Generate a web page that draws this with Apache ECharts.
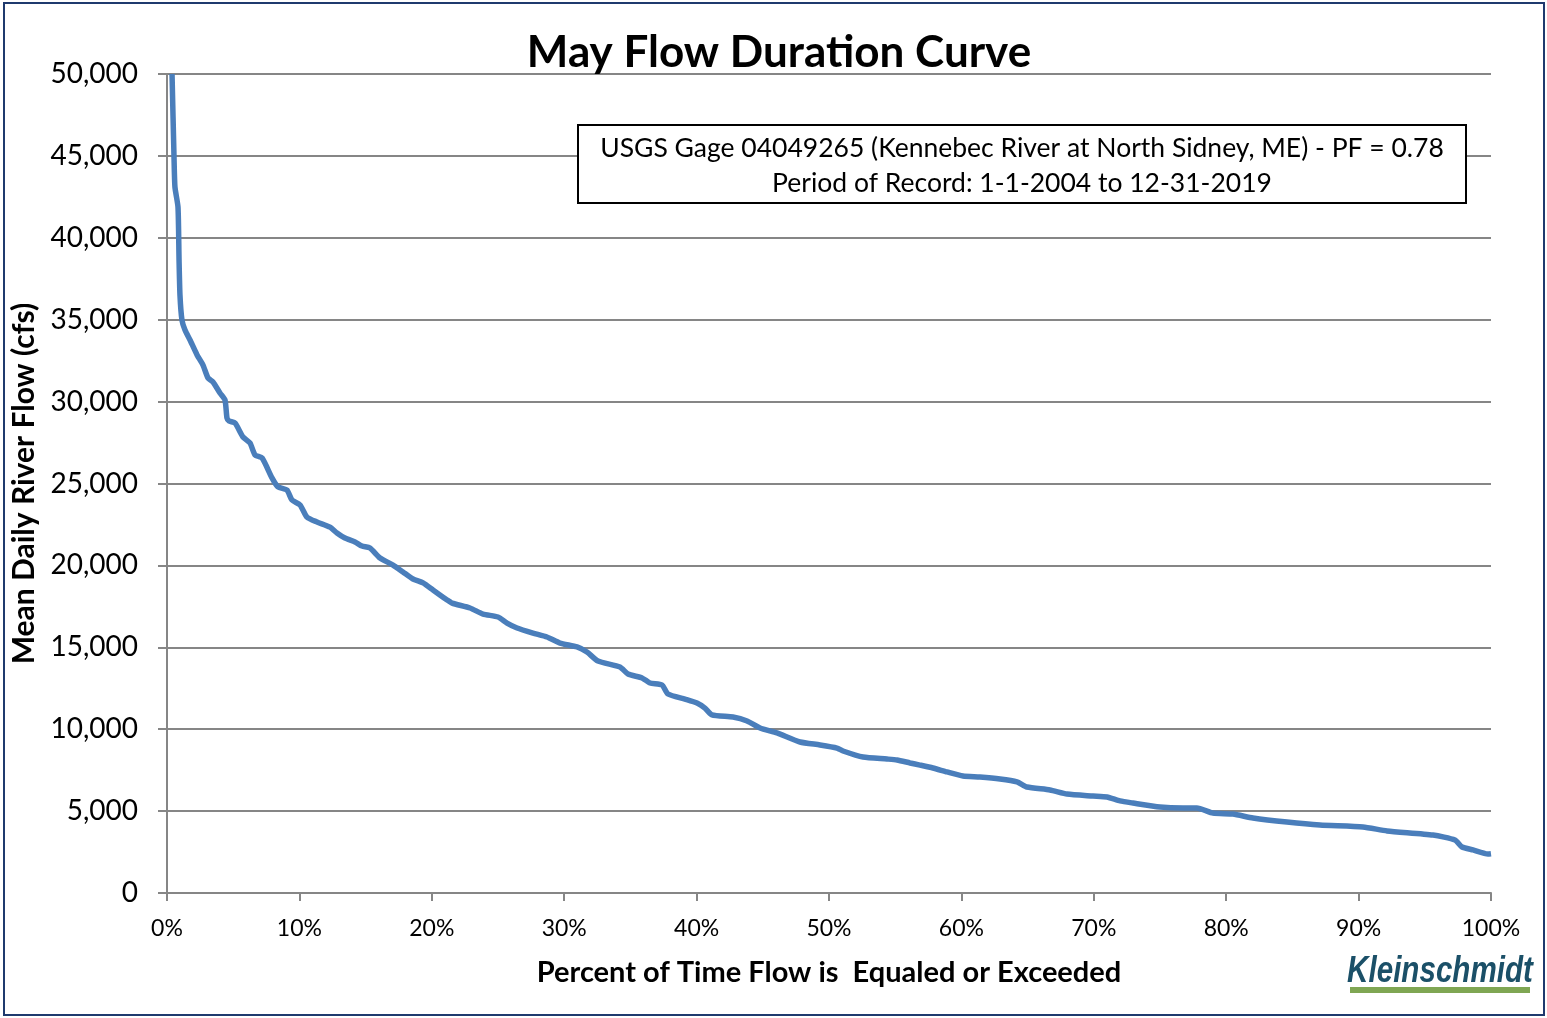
<!DOCTYPE html>
<html>
<head>
<meta charset="utf-8">
<title>May Flow Duration Curve</title>
<script src="https://cdn.jsdelivr.net/npm/echarts@6/dist/echarts.min.js"></script>
<style>
  html, body { margin: 0; padding: 0; background: #fff; }
  #chart { width: 1547px; height: 1018px; }
</style>
</head>
<body>
<div id="chart"></div>
<script>
// May flow duration curve
const pctExceeded = [
  0.38, 0.53, 0.60, 0.83, 0.91, 0.98, 1.13, 1.36, 1.74, 2.27,
  2.72, 3.10, 3.47, 4.00, 4.38, 4.53, 4.68, 5.14, 5.74, 6.27,
  6.65, 7.18, 7.93, 8.38, 9.06, 9.44, 10.05, 10.57, 11.33, 12.31,
  12.84, 13.44, 14.20, 14.73, 15.33, 16.09, 17.07, 17.82, 18.58, 19.34,
  20.09, 21.15, 21.53, 22.89, 23.87, 25.00, 25.68, 26.44, 27.64, 28.70,
  29.68, 30.97, 31.72, 32.55, 34.21, 34.82, 35.88, 36.48, 37.39, 37.84,
  39.12, 40.03, 40.63, 41.16, 42.75, 43.81, 44.79, 46.07, 47.81, 49.32,
  50.60, 51.06, 52.57, 54.38, 55.14, 56.12, 56.87, 57.85, 58.91, 60.12,
  61.40, 62.92, 64.20, 64.95, 66.69, 67.98, 69.94, 71.00, 71.98, 72.96,
  75.00, 76.74, 77.79, 79.00, 80.51, 82.02, 84.59, 87.08, 90.33, 92.15,
  95.62, 97.28, 97.81, 98.64, 99.77, 100
];
const flowCfs = [
  50000, 44930, 43100, 41880, 38640, 36500, 34980, 34370, 33760, 32850,
  32230, 31440, 31200, 30530, 30100, 29000, 28820, 28690, 27840, 27470,
  26740, 26560, 25340, 24790, 24600, 23990, 23690, 22950, 22650, 22340,
  21980, 21670, 21430, 21180, 21060, 20450, 20020, 19600, 19170, 18930,
  18500, 17890, 17700, 17400, 17030, 16850, 16480, 16180, 15870, 15630,
  15260, 15020, 14710, 14160, 13800, 13370, 13130, 12820, 12700, 12150,
  11840, 11600, 11290, 10870, 10740, 10500, 10070, 9770, 9220, 9040,
  8850, 8670, 8300, 8180, 8120, 7940, 7810, 7630, 7390, 7140,
  7080, 6960, 6780, 6470, 6290, 6040, 5920, 5860, 5620, 5490,
  5250, 5190, 5190, 4880, 4820, 4580, 4330, 4150, 4030, 3790,
  3540, 3240, 2810, 2630, 2380, 2400
];
const yTicks = [0, 5000, 10000, 15000, 20000, 25000, 30000, 35000, 40000, 45000, 50000];
const xTicks = [0, 10, 20, 30, 40, 50, 60, 70, 80, 90, 100];
const noteLines = [
  "USGS Gage 04049265 (Kennebec River at North Sidney, ME) - PF = 0.78",
  "Period of Record: 1-1-2004 to 12-31-2019"
];

const font = "Lato, 'Open Sans', sans-serif";
let flowChart = echarts.init(document.getElementById("chart"), null, { renderer: "canvas" });

const option = {
  animation: false,
  backgroundColor: "#fff",
  title: {
    text: "May Flow Duration Curve",
    left: 774,
    top: 26,
    textAlign: "center",
    textStyle: {
      fontFamily: font,
      fontWeight: "bold",
      fontSize: 44,
      color: "#000",
    },
  },
  grid: {
    left: 167,
    right: 56,
    top: 74,
    bottom: 125,
    containLabel: false,
    outerBoundsMode: "none",
  },
  xAxis: {
    type: "value",
    min: 0,
    max: 100,
    interval: 10,
    name: "Percent of Time Flow is  Equaled or Exceeded",
    nameLocation: "middle",
    nameGap: 65,
    nameTextStyle: {
      fontFamily: font,
      fontWeight: "bold",
      fontSize: 29,
      color: "#000",
    },
    axisLine: { show: true, lineStyle: { color: "#868686", width: 2 } },
    axisTick: { show: true, length: 8, lineStyle: { color: "#868686", width: 2 } },
    splitLine: { show: false },
    axisLabel: {
      margin: 24,
      fontFamily: font,
      fontSize: 23,
      color: "#000",
      formatter: (v) => (xTicks.indexOf(v) >= 0 ? v + "%" : ""),
    },
  },
  yAxis: {
    type: "value",
    min: 0,
    max: 50000,
    interval: 5000,
    name: "Mean Daily River Flow (cfs)",
    nameLocation: "middle",
    nameGap: 119,
    nameRotate: 90,
    nameTextStyle: {
      fontFamily: font,
      fontWeight: "bold",
      fontSize: 30,
      color: "#000",
    },
    axisLine: { show: true, lineStyle: { color: "#868686", width: 2 } },
    axisTick: { show: true, length: 9, lineStyle: { color: "#868686", width: 2 } },
    splitLine: { show: true, lineStyle: { color: "#868686", width: 2 } },
    axisLabel: {
      margin: 29,
      fontFamily: font,
      fontSize: 28,
      color: "#000",
      formatter: (v) => (yTicks.indexOf(v) >= 0 ? v.toLocaleString("en-US") : ""),
    },
  },
  series: [
    {
      name: "May",
      type: "line",
      data: pctExceeded.map((p, i) => [p, flowCfs[i]]),
      showSymbol: false,
      smooth: 0.2,
      clip: true,
      lineStyle: { color: "#4A7EBB", width: 5.5 },
      z: 5,
    },
  ],
  graphic: [
    // outer chart border
    {
      type: "rect",
      shape: { x: 4, y: 3, width: 1540, height: 1012 },
      style: { fill: null, stroke: "#1F3A6E", lineWidth: 2 },
      z: 100,
    },
    // note box
    {
      type: "rect",
      shape: { x: 578, y: 125, width: 888, height: 78 },
      style: { fill: "#fff", stroke: "#000", lineWidth: 2 },
      z: 50,
    },
    {
      type: "text",
      x: 1022,
      y: 148,
      style: {
        text: noteLines[0],
        fontFamily: font,
        fontSize: 26.5,
        fill: "#000",
        textAlign: "center",
        textVerticalAlign: "middle",
      },
      z: 51,
    },
    {
      type: "text",
      x: 1022,
      y: 183,
      style: {
        text: noteLines[1],
        fontFamily: font,
        fontSize: 26.5,
        fill: "#000",
        textAlign: "center",
        textVerticalAlign: "middle",
      },
      z: 51,
    },
    // logo
    {
      type: "text",
      x: 1440,
      y: 972,
      scaleX: 0.8,
      style: {
        text: "Kleinschmidt",
        fontFamily: "'Liberation Sans', Arial, sans-serif",
        fontWeight: "bold",
        fontStyle: "italic",
        fontSize: 37,
        fill: "#1B5068",
        textAlign: "center",
        textVerticalAlign: "middle",
      },
      z: 60,
    },
    {
      type: "rect",
      shape: { x: 1350, y: 987, width: 180, height: 6 },
      style: { fill: "#7FA653" },
      z: 60,
    },
  ],
};
flowChart.setOption(option);
</script>
</body>
</html>
